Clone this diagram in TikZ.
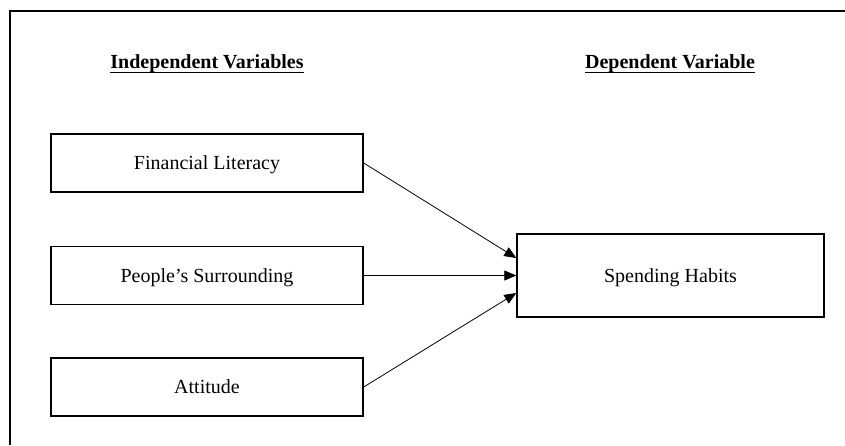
\documentclass[tikz,border=0pt]{standalone}
\usepackage{fontspec}
\setmainfont{Liberation Serif}
\usetikzlibrary{arrows.meta}

\newcommand{\headline}[1]{\underline{\smash{#1}\rule[-2.5pt]{0pt}{0pt}}}

\tikzset{
  varbox/.style={draw, line width=1.4pt, minimum width=312pt, minimum height=58pt,
    text depth=0pt, font=\fontsize{20}{24}\selectfont},
  heading/.style={font=\fontsize{20}{24}\selectfont\bfseries, anchor=base},
  link/.style={line width=0.8pt, -{Triangle[length=12pt,width=10pt]}}
}

\begin{document}
\begin{tikzpicture}[x=1pt, y=-1pt]
  \useasboundingbox (0,0) rectangle (845,445);
  % Frame (left and top edges)
  \draw[line width=2pt] (10,445) -- (10,11) -- (845,11);
  % Column headings
  \node[heading] (indep) at (207,68) {\headline{Independent Variables}};
  \node[heading] (dep) at (670,68) {\headline{Dependent Variable}};
  % Independent variables
  \node[varbox] (literacy) at (207,163) {Financial Literacy};
  \node[varbox] (surround) at (207,275.5) {People’s Surrounding};
  \node[varbox] (attitude) at (207,387) {Attitude};
  % Dependent variable
  \node[varbox, minimum width=307pt, minimum height=83pt] (spending) at (670.5,275.5) {Spending Habits};
  % Links
  \draw[link] (literacy.east) -- ([yshift=17.5pt]spending.west);
  \draw[link] (surround.east) -- (spending.west);
  \draw[link] (attitude.east) -- ([yshift=-17.5pt]spending.west);
\end{tikzpicture}
\end{document}
